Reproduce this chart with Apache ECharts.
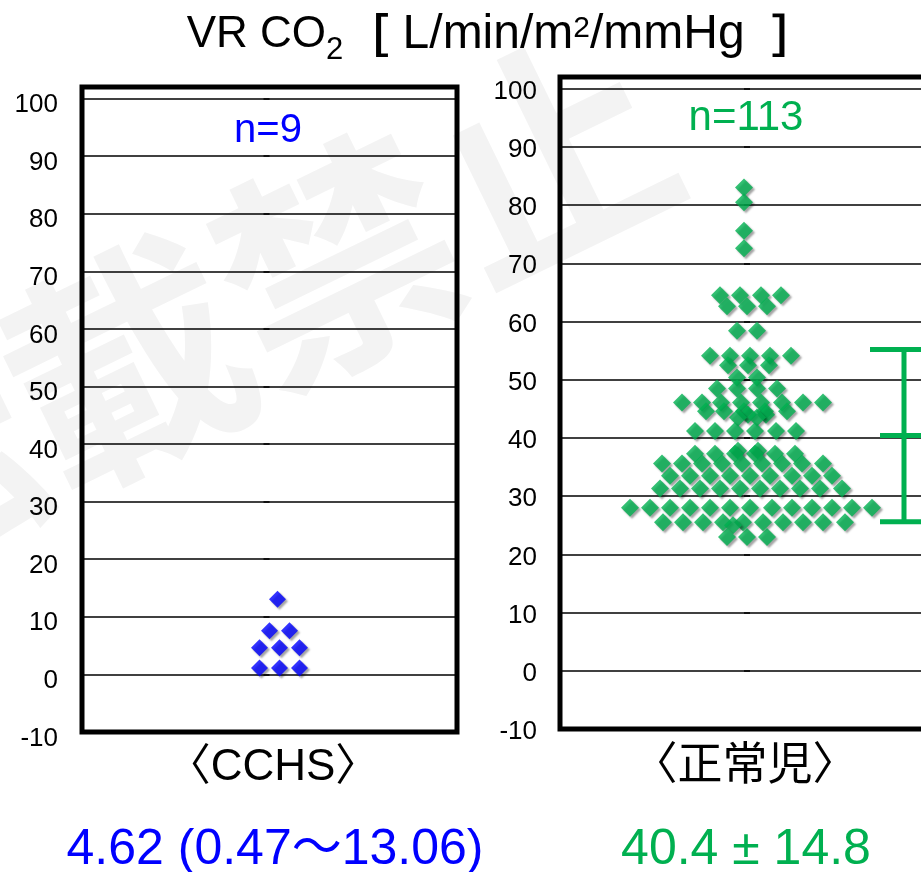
<!DOCTYPE html>
<html>
<head>
<meta charset="utf-8">
<script src="https://cdn.jsdelivr.net/npm/echarts@6/dist/echarts.min.js"></script>
<style>
  html, body { margin: 0; padding: 0; background: #fff; }
  #chart { width: 921px; height: 872px; }
</style>
</head>
<body>
<div id="chart"></div>
<script>
// y axis range
const yMin = -10, yMax = 102, yStep = 10;

// CCHS (n=9): value and horizontal offset inside the swarm
const cchsValues  = [13.06, 7.6, 7.6, 4.62, 4.62, 4.62, 1.1, 1.1, 1.1];
const cchsOffsets = [0.4, 0.0, 1.0, -0.5, 0.5, 1.5, -0.5, 0.5, 1.5];

// 正常児 (n=113), read row by row from the top
const normalValues = [
  83, 80.5, 75.6, 72.6,
  64.5, 64.5, 64.5, 64.5,
  62.6, 62.6, 62.6,
  58.4, 58.4,
  54.1, 54.1, 54.1, 54.1, 54.1,
  52.5, 52.5, 52.5,
  50.4, 50.4,
  48.5, 48.5, 48.5, 48.5,
  46.1, 46.1, 46.1, 46.1, 46.1, 46.1, 46.1, 46.1,
  44.6, 44.6, 44.6, 44.6, 44.6,
  44.0, 44.0,
  43.5, 43.5,
  41.2, 41.2, 41.2, 41.2, 41.2, 41.2,
  37.8, 37.8,
  37.3, 37.3, 37.3, 37.3, 37.3, 37.3,
  35.6, 35.6, 35.6, 35.6, 35.6, 35.6, 35.6, 35.6, 35.6,
  33.5, 33.5, 33.5, 33.5, 33.5, 33.5, 33.5, 33.5, 33.5,
  31.3, 31.3, 31.3, 31.3, 31.3, 31.3, 31.3, 31.3, 31.3, 31.3,
  28.0, 28.0, 28.0, 28.0, 28.0, 28.0, 28.0, 28.0, 28.0, 28.0, 28.0, 28.0, 28.0,
  25.5, 25.5, 25.5, 25.5, 25.5, 25.5, 25.5, 25.5, 25.5, 25.5,
  25.0,
  23.0, 23.0, 23.0
];
const normalOffsets = [
  -0.3, -0.3, -0.3, -0.3,
  -1.5, -0.5, 0.55, 1.55,
  -1.15, -0.15, 0.85,
  -0.65, 0.35,
  -2, -1, 0, 1, 2.05,
  -1.1, -0.1, 0.95,
  -0.65, 0.35,
  -1.65, -0.65, 0.35, 1.35,
  -3.4, -2.4, -1.45, -0.45, 0.55, 1.6, 2.65, 3.65,
  -2.2, -1.3, -0.3, 0.75, 1.85,
  -0.1, 0.8,
  -0.6, 0.35,
  -2.75, -1.75, -0.75, 0.25, 1.3, 2.3,
  -0.6, 0.4,
  -2.75, -1.75, -0.75, 0.25, 1.25, 2.25,
  -4.4, -3.4, -2.4, -1.4, -0.4, 0.6, 1.6, 2.6, 3.65,
  -4, -3, -2, -1, 0, 1, 2.1, 3.1, 4.1,
  -4.5, -3.5, -2.5, -1.5, -0.5, 0.5, 1.5, 2.5, 3.5, 4.6,
  -6, -5, -4, -3, -2, -1, 0, 1.1, 2.1, 3.1, 4.1, 5.1, 6.1,
  -4.35, -3.35, -2.35, -1.35, -0.35, 0.65, 1.65, 2.65, 3.65, 4.75,
  -0.85,
  -1.15, -0.15, 0.85
];

// mean ± SD of 正常児, drawn at this offset
const normalMean = 40.4;
const normalSD = 14.8;
const errorBarX = 7.7;

const groupNames = ['〈CCHS〉', '〈正常児〉'];
const groupCounts = ['n=9', 'n=113'];
const groupStats = ['4.62 (0.47〜13.06)', '40.4 ± 14.8'];

const BLUE = '#0000FF';
const GREEN = '#00B050';
const LATIN = '"Liberation Sans", Arial, "Noto Sans CJK JP"';

const chart = echarts.init(document.getElementById('chart'));

// labels in the source sit a little under their grid lines
function yAxisFor(gridIndex, margin, labelDrop) {
  return {
    type: 'value', gridIndex: gridIndex,
    min: yMin, max: yMax, interval: yStep,
    axisLine: { show: false },
    axisTick: { show: true, length: 6, lineStyle: { color: '#000', width: 1.5 } },
    axisLabel: {
      margin: margin, color: '#000', fontSize: 26, fontFamily: LATIN,
      verticalAlign: 'top', lineHeight: labelDrop * 2,
      formatter: v => (v % 10 === 0 ? String(v) : '')
    },
    splitLine: { show: true, lineStyle: { color: '#000', width: 1.5 } }
  };
}

const diamondShadow = {
  shadowColor: 'rgba(0,0,0,0.45)', shadowBlur: 2, shadowOffsetX: 2, shadowOffsetY: 2
};

const option = {
  animation: false,
  backgroundColor: '#fff',
  grid: [
    { left: 82, top: 87, width: 375, height: 645, outerBoundsMode: 'none',
      show: true, borderColor: '#000', borderWidth: 5 },
    // right panel runs past the picture's right edge
    { left: 560, top: 77, width: 440, height: 652, outerBoundsMode: 'none',
      show: true, borderColor: '#000', borderWidth: 5 }
  ],
  xAxis: [
    { type: 'value', gridIndex: 0, min: -9.375, max: 9.375, show: false },
    { type: 'value', gridIndex: 1, min: -9.5, max: 12.5, show: false }
  ],
  yAxis: [yAxisFor(0, 24, 6.5), yAxisFor(1, 23, 3)],
  series: [
    {
      type: 'scatter', xAxisIndex: 0, yAxisIndex: 0,
      symbol: 'diamond', symbolSize: 17,
      itemStyle: Object.assign({ color: BLUE }, diamondShadow),
      data: cchsValues.map((v, i) => [cchsOffsets[i], v])
    },
    {
      type: 'scatter', xAxisIndex: 1, yAxisIndex: 1,
      symbol: 'diamond', symbolSize: 18,
      itemStyle: Object.assign({ color: GREEN }, diamondShadow),
      data: normalValues.map((v, i) => [normalOffsets[i], v])
    },
    {
      type: 'custom', xAxisIndex: 1, yAxisIndex: 1,
      data: [[errorBarX, normalMean, normalSD]],
      encode: { x: 0, y: 1 },
      renderItem(params, api) {
        const x = api.value(0), m = api.value(1), s = api.value(2);
        const top = api.coord([x, m + s]);
        const mid = api.coord([x, m]);
        const bot = api.coord([x, m - s]);
        const wTop = api.size([1.7, 0])[0];
        const wMid = api.size([1.2, 0])[0];
        const style = { stroke: GREEN, lineWidth: 5 };
        const seg = (x1, y1, x2, y2) => ({ type: 'line', shape: { x1, y1, x2, y2 }, style });
        return {
          type: 'group',
          children: [
            seg(top[0], top[1], bot[0], bot[1]),
            seg(top[0] - wTop, top[1], top[0] + wTop, top[1]),
            seg(mid[0] - wMid, mid[1], mid[0] + wMid, mid[1]),
            seg(bot[0] - wMid, bot[1], bot[0] + wMid, bot[1])
          ]
        };
      }
    }
  ],
  graphic: [
    // watermark
    {
      type: 'text', x: 232, y: 312, rotation: 26 * Math.PI / 180, z: -10, silent: true,
      style: {
        text: '転載禁止', fill: '#f3f3f3', align: 'center', verticalAlign: 'middle',
        fontSize: 236, fontWeight: 'bold', fontFamily: '"Noto Sans CJK JP"'
      }
    },
    // title
    {
      type: 'text', x: 502, y: 35, z: 10,
      style: {
        text: '{v|VR CO}{sub|2}{br|［}{m| L/min/m}{sup|2}{m|/mmHg  }{br|］}',
        align: 'center', verticalAlign: 'middle',
        fontSize: 46, fontFamily: LATIN, fill: '#000',
        rich: {
          v: { fontSize: 44, fontFamily: LATIN, fill: '#000' },
          m: { fontSize: 48, fontFamily: LATIN, fill: '#000' },
          sub: { fontSize: 31, fontFamily: LATIN, fill: '#000', padding: [30, 0, 0, 0] },
          sup: { fontSize: 30, fontFamily: LATIN, fill: '#000', padding: [0, 0, 12, 0] },
          br: { fontSize: 46, fontFamily: '"Noto Sans CJK JP"', fontWeight: 'bold', fill: '#000' }
        }
      }
    },
    {
      type: 'text', x: 268, y: 131, z: 10,
      style: { text: groupCounts[0], fill: BLUE, fontSize: 40, fontFamily: LATIN, align: 'center', verticalAlign: 'middle' }
    },
    {
      type: 'text', x: 746, y: 118, z: 10,
      style: { text: groupCounts[1], fill: GREEN, fontSize: 42, fontFamily: LATIN, align: 'center', verticalAlign: 'middle' }
    },
    {
      type: 'text', x: 273, y: 768, z: 10,
      style: { text: groupNames[0], fill: '#000', fontSize: 44, fontFamily: LATIN, align: 'center', verticalAlign: 'middle' }
    },
    {
      type: 'text', x: 745, y: 768, z: 10,
      style: { text: groupNames[1], fill: '#000', fontSize: 45, fontFamily: LATIN, align: 'center', verticalAlign: 'middle' }
    },
    {
      type: 'text', x: 275, y: 850, z: 10,
      style: { text: groupStats[0], fill: BLUE, fontSize: 50, fontFamily: LATIN, align: 'center', verticalAlign: 'middle' }
    },
    {
      type: 'text', x: 746, y: 850, z: 10,
      style: { text: groupStats[1], fill: GREEN, fontSize: 50, fontFamily: LATIN, align: 'center', verticalAlign: 'middle' }
    }
  ]
};

chart.setOption(option);
</script>
</body>
</html>
